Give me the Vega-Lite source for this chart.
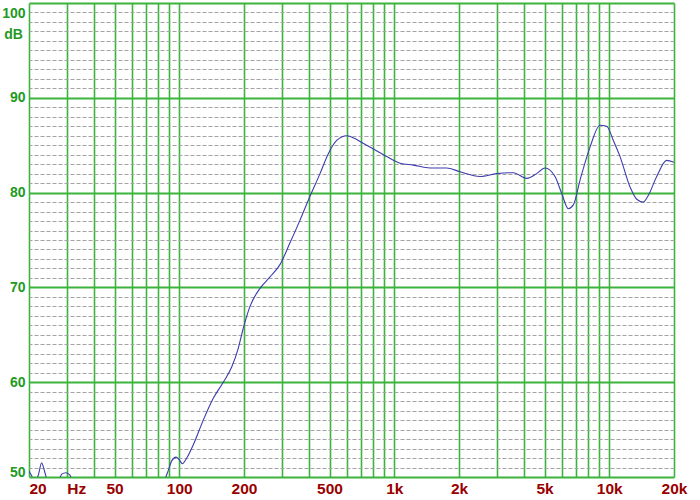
{
  "$schema": "https://vega.github.io/schema/vega-lite/v6.json",
  "width": 645,
  "height": 474,
  "autosize": "none",
  "padding": {"left": 29, "top": 3, "right": 26, "bottom": 23},
  "background": "white",
  "config": {"view": {"stroke": null}},
  "data": {
    "values": [
      {"freq": 20, "db": 50.6},
      {"freq": 20.6, "db": 50.1},
      {"freq": 21.1, "db": 49.5},
      {"freq": 22.1, "db": 50.2},
      {"freq": 22.9, "db": 51.5},
      {"freq": 23.3, "db": 51.1},
      {"freq": 23.9, "db": 50.2},
      {"freq": 24.5, "db": 49.5},
      {"freq": 27.3, "db": 49.5},
      {"freq": 28.4, "db": 50.3},
      {"freq": 29.7, "db": 50.45},
      {"freq": 31.0, "db": 50.2},
      {"freq": 32.0, "db": 49.5},
      {"freq": 81.4, "db": 49.5},
      {"freq": 86.5, "db": 50.0},
      {"freq": 88.9, "db": 50.7},
      {"freq": 92.2, "db": 51.7},
      {"freq": 96.6, "db": 52.1},
      {"freq": 100.1, "db": 51.8},
      {"freq": 103.3, "db": 51.4},
      {"freq": 108.3, "db": 52.0},
      {"freq": 116.2, "db": 53.4},
      {"freq": 129.3, "db": 56.0},
      {"freq": 143.9, "db": 58.3},
      {"freq": 160.2, "db": 60.0},
      {"freq": 175.3, "db": 61.6},
      {"freq": 188.2, "db": 63.6},
      {"freq": 198.5, "db": 65.7},
      {"freq": 213.3, "db": 68.0},
      {"freq": 237.4, "db": 69.9},
      {"freq": 264.2, "db": 71.1},
      {"freq": 294.0, "db": 72.4},
      {"freq": 327.3, "db": 74.7},
      {"freq": 364.4, "db": 77.1},
      {"freq": 398.2, "db": 79.2},
      {"freq": 451.4, "db": 82.0},
      {"freq": 493.4, "db": 84.1},
      {"freq": 539.8, "db": 85.5},
      {"freq": 601, "db": 86.0},
      {"freq": 656.6, "db": 85.7},
      {"freq": 692.6, "db": 85.4},
      {"freq": 799, "db": 84.6},
      {"freq": 922, "db": 83.8},
      {"freq": 1063, "db": 83.1},
      {"freq": 1226, "db": 82.9},
      {"freq": 1466, "db": 82.6},
      {"freq": 1753, "db": 82.6},
      {"freq": 2022, "db": 82.2},
      {"freq": 2504, "db": 81.7},
      {"freq": 2994, "db": 82.0},
      {"freq": 3578, "db": 82.1},
      {"freq": 4130, "db": 81.5},
      {"freq": 4596, "db": 82.0},
      {"freq": 5024, "db": 82.6},
      {"freq": 5593, "db": 81.7},
      {"freq": 6010, "db": 79.9},
      {"freq": 6450, "db": 78.3},
      {"freq": 6804, "db": 78.7},
      {"freq": 7308, "db": 81.3},
      {"freq": 8137, "db": 84.8},
      {"freq": 9055, "db": 87.1},
      {"freq": 9728, "db": 87.0},
      {"freq": 10444, "db": 85.5},
      {"freq": 11220, "db": 83.8},
      {"freq": 12486, "db": 80.6},
      {"freq": 13414, "db": 79.3},
      {"freq": 14396, "db": 79.0},
      {"freq": 15186, "db": 79.7},
      {"freq": 16616, "db": 81.7},
      {"freq": 18494, "db": 83.4},
      {"freq": 20000, "db": 83.2}
    ]
  },
  "layer": [
    {
      "mark": {"type": "line", "opacity": 0},
      "encoding": {
        "x": {
          "field": "freq", "type": "quantitative",
          "scale": {"type": "log", "domain": [20, 20000]},
          "axis": {"orient": "top", "grid": false, "labels": false, "ticks": false, "domain": false, "title": null}
        },
        "y": {
          "field": "db", "type": "quantitative",
          "scale": {"domain": [50, 100]},
          "axis": {
            "orient": "right",
            "values": [51,52,53,54,55,56,57,58,59,61,62,63,64,65,66,67,68,69,71,72,73,74,75,76,77,78,79,81,82,83,84,85,86,87,88,89,91,92,93,94,95,96,97,98,99],
            "grid": true, "gridColor": "#a3a3a3", "gridDash": [4, 2], "gridWidth": 1,
            "labels": false, "ticks": false, "domain": false, "title": null
          }
        }
      }
    },
    {
      "mark": {"type": "line", "clip": true, "color": "#3c3cae", "strokeWidth": 1.1, "interpolate": "monotone"},
      "encoding": {
        "x": {
          "field": "freq", "type": "quantitative",
          "scale": {"type": "log", "domain": [20, 20000]},
          "axis": {
            "orient": "bottom",
            "values": [20,30,40,50,60,70,80,90,100,200,300,400,500,600,700,800,900,1000,2000,3000,4000,5000,6000,7000,8000,9000,10000,20000],
            "grid": true, "gridColor": "#3cb43c", "gridWidth": 1.6,
            "domain": false, "ticks": false,
            "labelExpr": "datum.value == 20 ? '20' : datum.value == 30 ? 'Hz' : datum.value == 50 ? '50' : datum.value == 100 ? '100' : datum.value == 200 ? '200' : datum.value == 500 ? '500' : datum.value == 1000 ? '1k' : datum.value == 2000 ? '2k' : datum.value == 5000 ? '5k' : datum.value == 10000 ? '10k' : datum.value == 20000 ? '20k' : ''",
            "labelAlign": {"condition": {"test": "datum.value == 20 || datum.value == 30", "value": "left"}, "value": "center"},
            "labelFlush": false, "labelBound": false, "labelOverlap": false,
            "labelColor": "#990000", "labelFont": "Liberation Sans", "labelFontWeight": "bold", "labelFontSize": 15.5,
            "labelPadding": 4,
            "title": null
          }
        },
        "y": {
          "field": "db", "type": "quantitative",
          "scale": {"domain": [50, 100]},
          "axis": {
            "orient": "left",
            "values": [50, 60, 70, 80, 90, 100],
            "grid": true, "gridColor": "#3cb43c", "gridWidth": 1.8,
            "domain": false, "ticks": false,
            "labelFlush": false, "labelBound": false, "labelOverlap": false,
            "labelBaseline": "middle",
            "labelOffset": {"condition": [{"test": "datum.value == 100", "value": 10}, {"test": "datum.value == 50", "value": -5}], "value": 0},
            "labelColor": "#1f9a1f", "labelFont": "Liberation Sans", "labelFontWeight": "bold", "labelFontSize": 14,
            "labelPadding": 4,
            "title": "dB", "titleAngle": 0, "titleX": -16, "titleY": 31,
            "titleAlign": "center", "titleBaseline": "middle",
            "titleColor": "#1f9a1f", "titleFont": "Liberation Sans", "titleFontWeight": "bold", "titleFontSize": 14
          }
        }
      }
    }
  ],
  "resolve": {"axis": {"x": "independent", "y": "independent"}}
}
